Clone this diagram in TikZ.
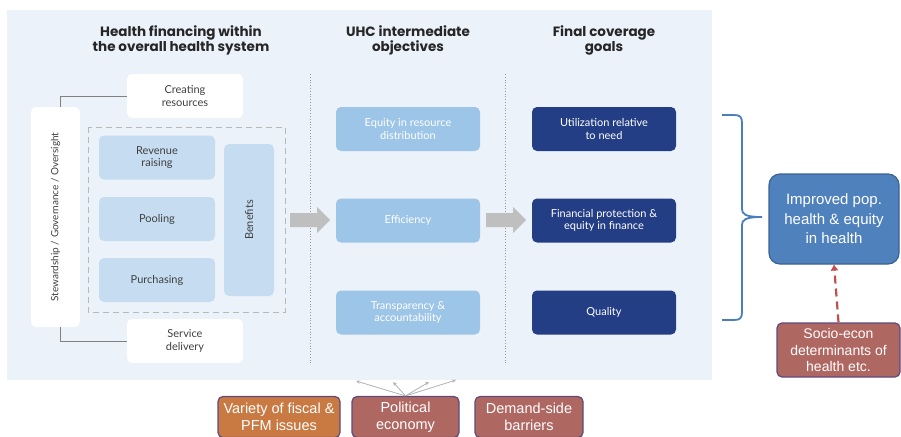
\documentclass[tikz,border=0pt]{standalone}
\usepackage{fontspec}
\setmainfont{Lato}
\newfontfamily\arialfont{Liberation Sans}
\newfontfamily\titlefont{Poppins}
\usetikzlibrary{calc,arrows.meta}

\definecolor{panelbg}{HTML}{EBF2FA}
\definecolor{paleblue}{HTML}{C6DDF1}
\definecolor{midblue}{HTML}{9DC5E7}
\definecolor{navyblue}{HTML}{243E85}
\definecolor{popblue}{HTML}{4F81BD}
\definecolor{popedge}{HTML}{3A6295}
\definecolor{rosebox}{HTML}{AF6762}
\definecolor{orangebox}{HTML}{C97A43}
\definecolor{plumedge}{HTML}{5E4A7C}
\definecolor{bracecol}{HTML}{4A7EBB}
\definecolor{dashred}{HTML}{C0504D}
\definecolor{arrowgray}{HTML}{BFBFBF}
\definecolor{boxtext}{HTML}{404040}

\def\blockarrow(#1,#2){\fill[arrowgray] (#1,#2-7) -- ++(27,0) -- ++(0,-6) -- ++(13,13) -- ++(-13,13) -- ++(0,-6) -- ++(-27,0) -- cycle;}

\tikzset{
	panelbox/.style={rounded corners=5pt, align=center, inner sep=2pt, text=boxtext, font=\fontsize{11}{12.5}\selectfont},
	whitebox/.style={panelbox, fill=white, minimum width=116pt, minimum height=44pt},
	palebox/.style={panelbox, fill=paleblue, minimum width=116pt, minimum height=44pt},
	midbox/.style={panelbox, fill=midblue, text=white, minimum width=144pt, minimum height=44pt},
	navybox/.style={panelbox, fill=navyblue, text=white, minimum width=144pt, minimum height=44pt},
	coltitle/.style={align=center, text=black!85, font=\titlefont\fontsize{13.5}{15}\selectfont\bfseries},
	factorbox/.style={draw=plumedge, line width=1.2pt, rounded corners=5pt, align=center, text=white, inner sep=1pt, font=\arialfont\fontsize{14.5}{17}\selectfont},
	linkgray/.style={draw=black!50, line width=0.9pt},
}

\begin{document}
\begin{tikzpicture}[x=1pt, y=-1pt]
		%%%%% START %%%%%
		\useasboundingbox (0,0) rectangle (901,436);
		
		\fill[panelbg] (7,10) rectangle (712,380);
		
		% column titles
		\node[coltitle] (t1) at (181,40) {Health financing within\\the overall health system};
		\node[coltitle] (t2) at (408,40) {UHC intermediate\\objectives};
		\node[coltitle] (t3) at (604,40) {Final coverage\\goals};
		
		\draw[black!40, dotted, line width=0.8pt] (310,74) -- (310,363);
		\draw[black!40, dotted, line width=0.8pt] (505,74) -- (505,363);
		
		% health financing functions
		\node[whitebox] (create) at (185,96) {Creating\\resources};
		\node[whitebox] (deliver) at (185,341) {Service\\delivery};
		\node[whitebox, minimum width=49pt, minimum height=220pt, font=\fontsize{10}{12}\selectfont] (stew) at (55.5,217) {\rotatebox{90}{Stewardship / Governance / Oversight}};
		\draw[linkgray] ($(stew.north)+(4.5,0)$) |- (create.west);
		\draw[linkgray] ($(stew.south)+(4.5,0)$) |- (deliver.west);
		
		\draw[black!28, dashed, dash pattern=on 6pt off 4pt, line width=0.9pt] (88,127) rectangle (285,312);
		\node[palebox] (revenue) at (157,157.5) {Revenue\\raising};
		\node[palebox] (pooling) at (157,219) {Pooling};
		\node[palebox] (purchase) at (157,280) {Purchasing};
		\node[palebox, minimum width=50pt, minimum height=152pt] (benefits) at (249,220) {\rotatebox{90}{Benefits}};
		
		\blockarrow(290,220)
		
		% intermediate objectives
		\node[midbox] (equity) at (408,129) {Equity in resource\\distribution};
		\node[midbox] (effic) at (408,220.5) {Efficiency};
		\node[midbox] (transp) at (408,312.5) {Transparency \&\\accountability};
		
		\blockarrow(486,220)
		
		% final goals
		\node[navybox] (util) at (604,129) {Utilization relative\\to need};
		\node[navybox] (finprot) at (604,220.5) {Financial protection \&\\equity in finance};
		\node[navybox] (quality) at (604,312.5) {Quality};
		
		% outcome
		\coordinate (bracetop) at (722,115);
		\coordinate (bracebot) at (722,320);
		\coordinate (bracetip) at (762,217);
		\draw[bracecol, line width=1.8pt] (bracetop) -- (734,115) .. controls (740,115) and (742,117) .. (742,123)
			-- (742,209) .. controls (742,214) and (745,217) .. (bracetip)
			.. controls (745,217) and (742,220) .. (742,225)
			-- (742,312) .. controls (742,318) and (740,320) .. (734,320) -- (bracebot);
		
		\node[fill=popblue, draw=popedge, line width=1.2pt, rounded corners=11pt, minimum width=130pt, minimum height=90pt, align=center, text=white, font=\arialfont\fontsize{15}{19.5}\selectfont] (improved) at (834,219) {Improved pop.\\health \& equity\\in health};
		\node[factorbox, fill=rosebox, minimum width=123pt, minimum height=54pt, font=\arialfont\fontsize{14}{16.5}\selectfont] (socio) at (838.5,350) {Socio-econ\\determinants of\\health etc.};
		\draw[dashred, line width=2.2pt, dash pattern=on 8pt off 5pt, -{Triangle[length=6pt,width=7pt]}] (socio.north) -- (improved.south);
		
		% contextual factors
		\node[factorbox, fill=orangebox, minimum width=122pt, minimum height=41pt] (fiscal) at (279,417) {Variety of fiscal \&\\PFM issues};
		\node[factorbox, fill=rosebox, minimum width=107pt, minimum height=41pt] (political) at (405.5,417) {Political\\economy};
		\node[factorbox, fill=rosebox, minimum width=108pt, minimum height=41pt] (demand) at (529,417) {Demand-side\\barriers};
		
		\coordinate (p1) at (356,381);
		\coordinate (p2) at (393,382);
		\coordinate (p3) at (429,382);
		\coordinate (p4) at (456,380);
		\foreach \p in {p1,p2,p3,p4}
			\draw[black!30, line width=0.8pt, -{Stealth[length=4pt,width=3.5pt]}] (political.north) -- (\p);
		
		%%%%% END %%%%%
\end{tikzpicture}
\end{document}
